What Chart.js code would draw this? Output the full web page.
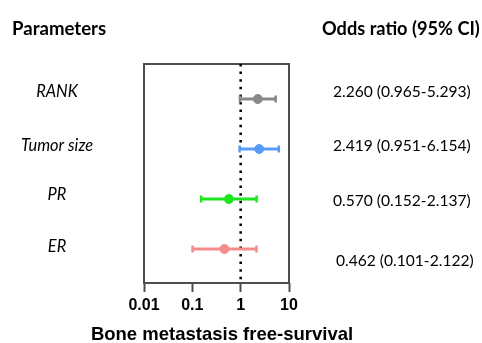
<!DOCTYPE html>
<html>
<head>
<meta charset="utf-8">
<script src="https://cdn.jsdelivr.net/npm/chart.js@4"></script>
<style>
  html, body { margin: 0; padding: 0; background: #fff; }
  #wrap { width: 482px; height: 343px; }
</style>
</head>
<body>
<div id="wrap"><canvas id="canvas"></canvas></div>
<script>
const params = ['RANK', 'Tumor size', 'PR', 'ER'];
const oddsRatio = [2.260, 2.419, 0.570, 0.462];
const ciLow = [0.965, 0.951, 0.152, 0.101];
const ciHigh = [5.293, 6.154, 2.137, 2.122];
const colors = ['#888888', '#5b9bf8', '#1ee61e', '#f48c8c'];
const xTicks = [0.01, 0.1, 1, 10];
const refValue = 1;

const rowPos = params.map((p, i) => i + 1);
const yMin = 0.3, yMax = 4.68;

const datasets = [];
params.forEach((p, i) => {
    // CI whisker with caps
    datasets.push({
        type: 'line',
        data: [{x: ciLow[i], y: rowPos[i]}, {x: ciHigh[i], y: rowPos[i]}],
        borderColor: colors[i],
        backgroundColor: colors[i],
        borderWidth: 3,
        pointStyle: 'line',
        rotation: 90,
        pointRadius: 3.5,
        pointBorderWidth: 2.5,
        pointHoverRadius: 3.5,
        order: 2,
    });
    // point estimate
    datasets.push({
        type: 'scatter',
        data: [{x: oddsRatio[i], y: rowPos[i]}],
        borderColor: colors[i],
        backgroundColor: colors[i],
        pointRadius: 4.5,
        pointHoverRadius: 4.5,
        order: 1,
    });
});
// reference line at OR = 1
datasets.push({
    type: 'line',
    data: [{x: refValue, y: yMin}, {x: refValue, y: yMax}],
    borderColor: '#000',
    borderWidth: 2.5,
    borderDash: [2.5, 5.1],
    pointRadius: 0,
    order: 10,
});

const textPlugin = {
    id: 'forestText',
    beforeDatasetsDraw(chart) {
        const {ctx, chartArea: a} = chart;
        ctx.save();
        ctx.strokeStyle = '#4d4d4d';
        ctx.lineWidth = 2;
        ctx.strokeRect(a.left, a.top, a.right - a.left, a.bottom - a.top);
        ctx.restore();
    },
    afterDraw(chart) {
        const ctx = chart.ctx;
        const y = chart.scales.y;
        const labelShift = [-7, -3, -4, -2];
        const valueShift = [-7, -3, 2, 12];
        ctx.save();
        ctx.fillStyle = '#000';
        ctx.textBaseline = 'middle';
        ctx.font = 'bold 18.6px Lato';
        ctx.textAlign = 'left';
        ctx.fillText('Parameters', 12, 29);
        ctx.font = 'bold 18.2px Lato';
        ctx.fillText('Odds ratio (95% CI)', 322, 29);

        ctx.font = 'italic 16.4px Lato';
        ctx.textAlign = 'center';
        params.forEach((p, i) => {
            ctx.fillText(p, 57, y.getPixelForValue(rowPos[i]) + labelShift[i]);
        });

        ctx.font = '15.6px Lato';
        ctx.textAlign = 'left';
        params.forEach((p, i) => {
            const s = oddsRatio[i].toFixed(3) + ' (' + ciLow[i].toFixed(3) + '-' + ciHigh[i].toFixed(3) + ')';
            ctx.fillText(s, i === 3 ? 336 : 333, y.getPixelForValue(rowPos[i]) + valueShift[i]);
        });

        ctx.font = 'bold 18.5px "Liberation Sans", Arial';
        ctx.textAlign = 'center';
        ctx.fillText('Bone metastasis free-survival', 222, 335);
        ctx.restore();
    }
};

const config = {
    data: { datasets: datasets },
    options: {
        responsive: true,
        maintainAspectRatio: false,
        animation: false,
        layout: { padding: { left: 144, right: 193, top: 64, bottom: 0 } },
        plugins: { legend: { display: false }, tooltip: { enabled: false } },
        scales: {
            x: {
                type: 'logarithmic',
                min: 0.01,
                max: 10,
                afterBuildTicks: (scale) => { scale.ticks = xTicks.map(v => ({value: v})); },
                afterFit: (scale) => { scale.height = 60; },
                border: { display: false },
                grid: {
                    drawOnChartArea: false,
                    tickLength: 9,
                    tickWidth: 2,
                    tickColor: '#4d4d4d',
                },
                ticks: {
                    autoSkip: false,
                    maxRotation: 0,
                    padding: 4,
                    color: '#000',
                    font: { family: '"Liberation Sans", Arial', size: 16, weight: 'bold' },
                    callback: (v) => String(v),
                },
            },
            y: {
                type: 'linear',
                min: yMin,
                max: yMax,
                reverse: true,
                display: false,
            },
        },
    },
    plugins: [textPlugin],
};
const canvas = document.getElementById('canvas');
const chart = new Chart(canvas, config);
</script>
</body>
</html>
